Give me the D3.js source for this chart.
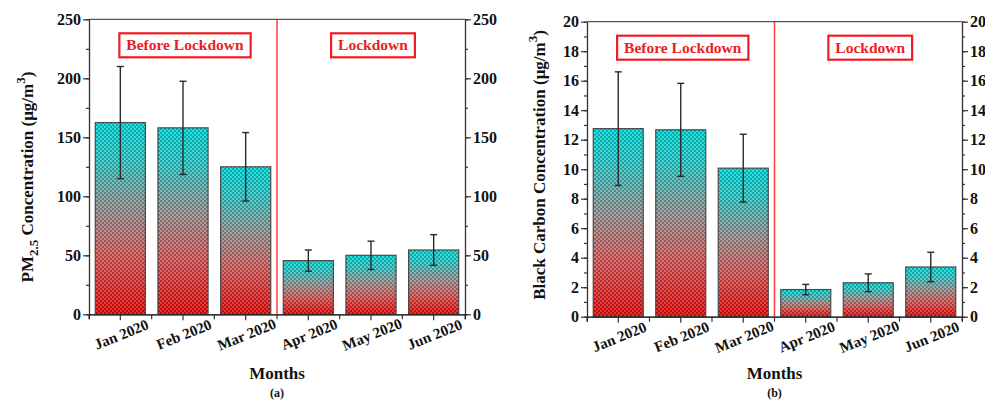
<!DOCTYPE html>
<html>
<head>
<meta charset="utf-8">
<script src="https://cdn.jsdelivr.net/npm/d3@7"></script>
<style>
  body { margin: 0; background: #fff; }
  svg text { font-family: "Liberation Serif", "Times New Roman", serif; font-weight: bold; }
</style>
</head>
<body>
<div id="chart"></div>
<script>
// Monthly means with standard deviation
const months = ["Jan 2020", "Feb 2020", "Mar 2020", "Apr 2020", "May 2020", "Jun 2020"];
const pm25 = [162.5, 158, 125, 45.5, 50, 54.5];
const pm25Err = [47.5, 39.5, 29, 9, 12, 13];
const bc = [12.75, 12.67, 10.07, 1.84, 2.3, 3.37];
const bcErr = [3.85, 3.15, 2.3, 0.35, 0.6, 1.0];
const periods = ["Before Lockdown", "Lockdown"];

const W = 985, H = 402;
const svg = d3.select("#chart").append("svg").attr("width", W).attr("height", H);

const defs = svg.append("defs");
const grad = defs.append("linearGradient")
  .attr("id", "barGrad")
  .attr("x1", "0").attr("y1", "1").attr("x2", "0").attr("y2", "0");
grad.append("stop").attr("offset", "0%").attr("stop-color", "#e80808");
grad.append("stop").attr("offset", "30%").attr("stop-color", "#d85a5a");
grad.append("stop").attr("offset", "55%").attr("stop-color", "#989494");
grad.append("stop").attr("offset", "80%").attr("stop-color", "#30c8c8");
grad.append("stop").attr("offset", "100%").attr("stop-color", "#00dada");

// checkered dither on top of the gradient
const pat = defs.append("pattern")
  .attr("id", "checks")
  .attr("width", 4).attr("height", 4)
  .attr("patternUnits", "userSpaceOnUse");
pat.append("rect").attr("width", 2).attr("height", 2).attr("fill", "#000").attr("opacity", 0.2);
pat.append("rect").attr("x", 2).attr("y", 2).attr("width", 2).attr("height", 2).attr("fill", "#000").attr("opacity", 0.2);
pat.append("rect").attr("x", 2).attr("width", 2).attr("height", 2).attr("fill", "#fff").attr("opacity", 0.15);
pat.append("rect").attr("y", 2).attr("width", 2).attr("height", 2).attr("fill", "#fff").attr("opacity", 0.15);

function drawPanel(opt) {
  const { x0, x1, y0, y1, values, errors, yMax, major, minor, titleParts, titleX, titleY, tag } = opt;
  const g = svg.append("g");

  const x = d3.scaleBand().domain(months).range([x0, x1]).paddingInner(0.2).paddingOuter(0.1);
  const xs = d3.scaleBand().domain(months).range([x0, x1]).padding(0);
  const y = d3.scaleLinear().domain([0, yMax]).range([y1, y0]);

  // bars
  const bars = g.selectAll(".bar").data(months).join("g");
  bars.append("rect")
    .attr("x", d => x(d))
    .attr("y", (d, i) => y(values[i]))
    .attr("width", x.bandwidth())
    .attr("height", (d, i) => y(0) - y(values[i]))
    .attr("fill", "url(#barGrad)");
  bars.append("rect")
    .attr("x", d => x(d))
    .attr("y", (d, i) => y(values[i]))
    .attr("width", x.bandwidth())
    .attr("height", (d, i) => y(0) - y(values[i]))
    .attr("fill", "url(#checks)")
    .attr("stroke", "#4a4a4a")
    .attr("stroke-width", 1.2);

  // error bars
  const eb = g.selectAll(".err").data(months).join("g").attr("stroke", "#2a2a2a").attr("stroke-width", 1.4);
  const cx = d => x(d) + x.bandwidth() / 2;
  eb.append("line")
    .attr("x1", cx).attr("x2", cx)
    .attr("y1", (d, i) => y(values[i] + errors[i]))
    .attr("y2", (d, i) => y(values[i] - errors[i]));
  [1, -1].forEach(s => {
    eb.append("line")
      .attr("x1", d => cx(d) - 3.5).attr("x2", d => cx(d) + 3.5)
      .attr("y1", (d, i) => y(values[i] + s * errors[i]))
      .attr("y2", (d, i) => y(values[i] + s * errors[i]));
  });

  // divider between periods
  const xDiv = xs(months[3]);
  g.append("line")
    .attr("x1", xDiv).attr("x2", xDiv).attr("y1", y0).attr("y2", y1)
    .attr("stroke", "#ff3b3b").attr("stroke-width", 1.5);

  // period labels in boxes
  const regions = [[x0, xDiv], [xDiv, x1]];
  periods.forEach((p, i) => {
    const cxp = (regions[i][0] + regions[i][1]) / 2 + 2;
    const t = g.append("text")
      .attr("x", cxp).attr("y", y0 + 31)
      .attr("text-anchor", "middle")
      .attr("font-size", 15.5)
      .attr("fill", "#ee1c24")
      .text(p);
    const w = t.node().getComputedTextLength();
    g.append("rect")
      .attr("x", cxp - w / 2 - 7).attr("y", y0 + 14)
      .attr("width", w + 14).attr("height", 24)
      .attr("fill", "none").attr("stroke", "#ee1c24").attr("stroke-width", 2.2);
  });

  // top frame
  g.append("line").attr("x1", x0).attr("x2", x1).attr("y1", y0).attr("y2", y0)
    .attr("stroke", "#555").attr("stroke-width", 1.3);

  // y axes: minor ticks first, then labelled majors
  const minorTicks = d3.range(0, yMax + minor / 2, minor);
  const majorTicks = d3.range(0, yMax + major / 2, major);
  [["left", x0], ["right", x1]].forEach(([side, px]) => {
    const axisFn = side === "left" ? d3.axisLeft : d3.axisRight;
    const am = g.append("g").attr("transform", `translate(${px},0)`)
      .call(axisFn(y).tickValues(minorTicks).tickSize(3).tickFormat(""));
    am.select(".domain").remove();
    const a = g.append("g").attr("transform", `translate(${px},0)`)
      .call(axisFn(y).tickValues(majorTicks).tickSize(6).tickSizeOuter(0).tickPadding(2));
    a.selectAll("text").attr("font-size", 16).attr("fill", "#111");
    g.selectAll(".tick line").attr("stroke", "#333").attr("stroke-width", 1.2);
    a.select(".domain").attr("stroke", "#333").attr("stroke-width", 1.3);
  });

  // x axis: ticks at bar centres and at band edges
  const edgeAx = g.append("g").attr("transform", `translate(0,${y1})`)
    .call(d3.axisBottom(xs).tickSize(5).tickFormat(""));
  edgeAx.selectAll(".tick").attr("transform", d => `translate(${xs(d)},0)`);
  edgeAx.append("line").attr("x1", x1).attr("x2", x1).attr("y2", 5).attr("stroke", "#333");
  const xa = g.append("g").attr("transform", `translate(0,${y1})`)
    .call(d3.axisBottom(xs).tickSize(6).tickSizeOuter(0));
  xa.selectAll(".tick text")
    .attr("font-size", 15)
    .attr("fill", "#111")
    .attr("text-anchor", "middle")
    .attr("transform", "translate(1,20) rotate(-22)")
    .attr("dy", "0.35em")
    .attr("y", 0);
  g.selectAll(".tick line").attr("stroke", "#333").attr("stroke-width", 1.2);
  xa.select(".domain").attr("stroke", "#333").attr("stroke-width", 1.3);

  // axis titles
  const xm = (x0 + x1) / 2;
  g.append("text").attr("x", xm).attr("y", 379)
    .attr("text-anchor", "middle").attr("font-size", 17).attr("fill", "#111").text("Months");
  g.append("text").attr("x", xm).attr("y", 397)
    .attr("text-anchor", "middle").attr("font-size", 12).attr("fill", "#111").text(tag);

  const yt = g.append("text")
    .attr("transform", `translate(${titleX},${titleY}) rotate(-90)`)
    .attr("text-anchor", "middle").attr("font-size", 17).attr("fill", "#111");
  titleParts.forEach(p => {
    yt.append("tspan")
      .attr("dy", p.dy || 0)
      .attr("font-size", p.size || 17)
      .text(p.t);
  });
}

drawPanel({
  x0: 89, x1: 465, y0: 19.3, y1: 314.3,
  values: pm25, errors: pm25Err, yMax: 250, major: 50, minor: 25,
  titleX: 33, titleY: 177, tag: "(a)",
  titleParts: [
    { t: "PM" }, { t: "2.5", dy: 5, size: 13 }, { t: " Concentration (μg/m", dy: -5 },
    { t: "3", dy: -8, size: 13 }, { t: ")", dy: 8 }
  ]
});

drawPanel({
  x0: 587, x1: 962, y0: 21.7, y1: 316.7,
  values: bc, errors: bcErr, yMax: 20, major: 2, minor: 1,
  titleX: 545, titleY: 165, tag: "(b)",
  titleParts: [
    { t: "Black Carbon Concentration (μg/m" }, { t: "3", dy: -8, size: 13 }, { t: ")", dy: 8 }
  ]
});
</script>
</body>
</html>
